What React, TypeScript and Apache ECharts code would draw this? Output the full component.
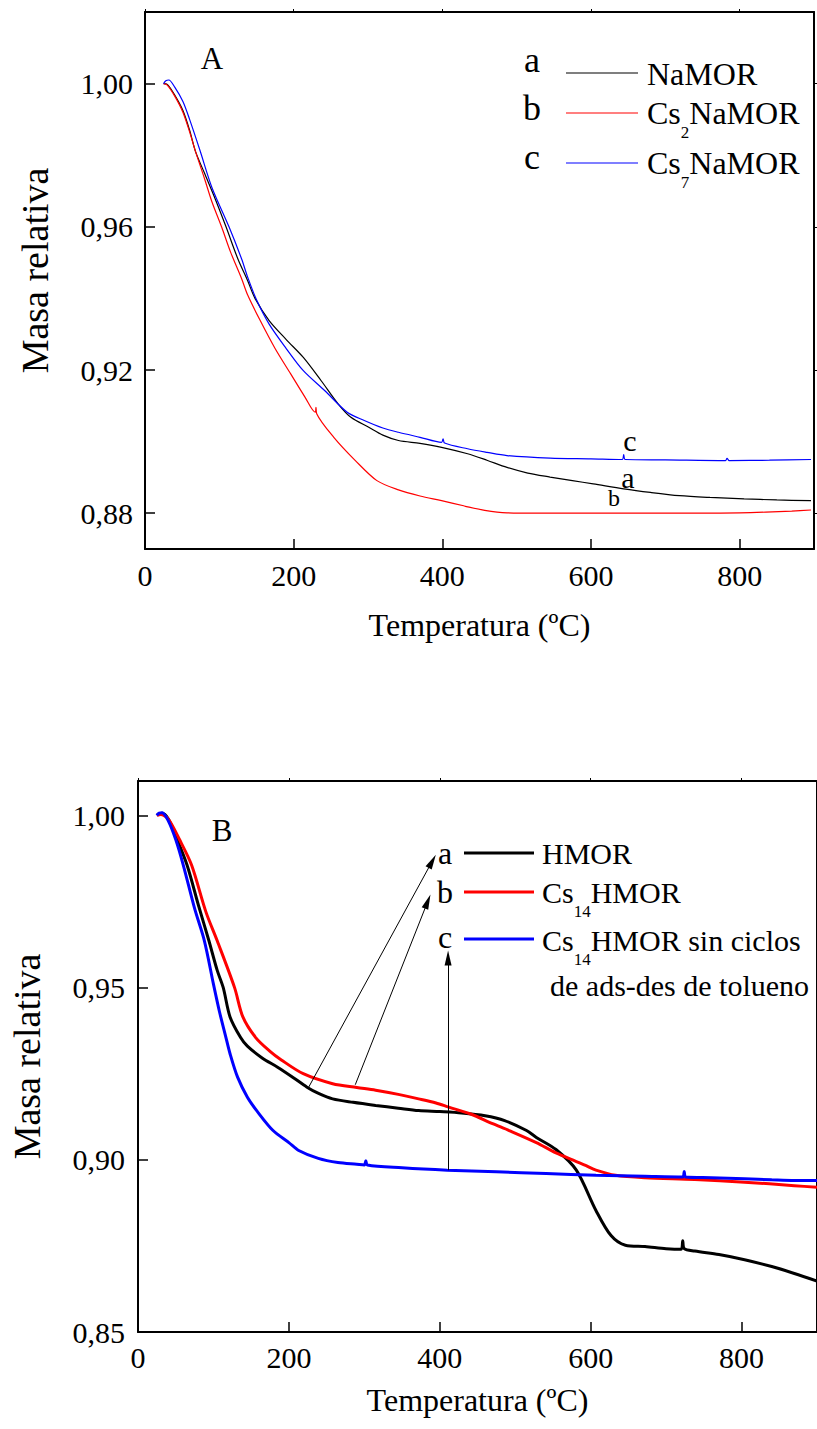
import React, { useEffect, useRef } from "react";
import * as echarts from "echarts";

// ---------- Panel A data ----------
const tempA_NaMOR = [25, 30, 40, 51, 60, 68, 80, 95, 109, 125, 138, 148, 167, 190, 213, 237, 260, 277, 301, 320, 341, 370, 399, 434, 460, 487, 515, 545, 575, 603, 644, 680, 719, 760, 806, 850, 896];
const massA_NaMOR = [1.0, 0.9998, 0.9968, 0.9925, 0.987, 0.981, 0.975, 0.9675, 0.96, 0.951, 0.945, 0.94, 0.9338, 0.9285, 0.9235, 0.917, 0.9105, 0.9068, 0.904, 0.9018, 0.9003, 0.8995, 0.8984, 0.8966, 0.8948, 0.8928, 0.8912, 0.8901, 0.8891, 0.8882, 0.8868, 0.8858, 0.8849, 0.8844, 0.884, 0.8837, 0.8835];

const tempA_Cs2 = [25, 30, 40, 51, 60, 68, 80, 90, 103, 115, 130, 138, 155, 175, 196, 215, 229, 230, 231, 254, 283, 312, 341, 370, 399, 430, 457, 487, 530, 574, 650, 748, 800, 835, 870, 896];
const massA_Cs2 = [1.0, 0.9996, 0.9965, 0.992, 0.9865, 0.981, 0.9735, 0.967, 0.96, 0.953, 0.9455, 0.941, 0.9338, 0.926, 0.9189, 0.9125, 0.9082, 0.9096, 0.9078, 0.9012, 0.8947, 0.8891, 0.8865, 0.8848, 0.8835, 0.882, 0.8808, 0.8801, 0.88, 0.88, 0.88, 0.88, 0.8801, 0.8803, 0.8806, 0.8809];

const tempA_Cs7 = [25, 28, 32, 40, 51, 60, 74, 90, 113, 130, 138, 150, 167, 190, 213, 242, 272, 295, 320, 341, 370, 399, 401, 403, 434, 460, 487, 545, 600, 642, 644, 646, 700, 781, 783, 786, 840, 896];
const massA_Cs7 = [1.0, 1.0008, 1.001, 0.999, 0.995, 0.99, 0.9813, 0.971, 0.96, 0.951, 0.946, 0.9396, 0.9328, 0.926, 0.9198, 0.9142, 0.9082, 0.9059, 0.9038, 0.9026, 0.9012, 0.8998, 0.9008, 0.8996, 0.898, 0.897, 0.8961, 0.8954, 0.8952, 0.895, 0.8964, 0.895, 0.8949, 0.8947, 0.8953, 0.8947, 0.8948, 0.895];

// ---------- Panel B data ----------
const tempB_HMOR = [25, 28, 32, 40, 50, 65, 80, 94, 105, 113, 122, 136, 145, 165, 185, 205, 224, 240, 258, 285, 315, 345, 372, 400, 429, 460, 486, 515, 528, 554, 581, 607, 627, 646, 672, 700, 720, 722, 724, 738, 770, 804, 840, 870, 900];
const massB_HMOR = [1.0, 1.0005, 1.0006, 0.999, 0.994, 0.9856, 0.974, 0.9636, 0.955, 0.95, 0.9415, 0.9355, 0.933, 0.9295, 0.9269, 0.924, 0.9211, 0.9192, 0.9177, 0.9167, 0.9158, 0.915, 0.9143, 0.914, 0.9136, 0.9128, 0.9114, 0.9085, 0.9065, 0.903, 0.897, 0.8853, 0.878, 0.8752, 0.8748, 0.8742, 0.874, 0.8765, 0.8742, 0.8735, 0.8725, 0.871, 0.869, 0.867, 0.8648];

const tempB_Cs14 = [25, 30, 40, 55, 71, 90, 105, 128, 139, 156, 175, 190, 219, 258, 290, 315, 345, 372, 395, 412, 441, 470, 492, 528, 554, 581, 594, 607, 633, 672, 738, 804, 870, 900];
const massB_Cs14 = [1.0, 1.0003, 0.999, 0.993, 0.9856, 0.972, 0.9636, 0.95, 0.9415, 0.9355, 0.9315, 0.929, 0.925, 0.9221, 0.921, 0.9202, 0.919, 0.9177, 0.9165, 0.9153, 0.9133, 0.9105, 0.9085, 0.905, 0.902, 0.8995, 0.8983, 0.897, 0.8955, 0.8948, 0.8943, 0.8935, 0.8925, 0.892];

const tempB_Cs14sc = [25, 28, 32, 40, 50, 60, 75, 88, 100, 108, 116, 122, 132, 145, 160, 179, 200, 213, 239, 265, 290, 300, 302, 304, 350, 410, 475, 541, 607, 672, 722, 724, 726, 760, 804, 840, 870, 900];
const massB_Cs14sc = [1.0, 1.0007, 1.0008, 0.9985, 0.993, 0.9856, 0.973, 0.9636, 0.951, 0.943, 0.936, 0.9308, 0.924, 0.9182, 0.9135, 0.9085, 0.905, 0.9027, 0.9004, 0.8992, 0.8987, 0.8985, 0.8997, 0.8985, 0.8977, 0.897, 0.8965, 0.896, 0.8955, 0.8952, 0.895, 0.8966, 0.895, 0.8948, 0.8945, 0.8942, 0.894, 0.894];

// Arrow annotations (panel B), in data coordinates [T, mass]
const arrowA = [[226, 0.921], [390, 0.9867]];
const arrowB = [[288, 0.9218], [384, 0.975]];
const arrowC = [[411, 0.897], [411, 0.9586]];

// ---------- Ticks ----------
const xTicks = [0, 200, 400, 600, 800];
const yTicksA = [0.88, 0.92, 0.96, 1.0];
const yTicksB = [0.85, 0.9, 0.95, 1.0];

const FONT = "Liberation Serif";

const zip = (t: number[], m: number[]) => t.map((x, i) => [x, m[i]]);
const fmt = (v: number) => v.toFixed(2).replace(".", ",");

function xAxisBottom(gridIndex: number, nameGap: number, labelMargin: number) {
  return {
    type: "value",
    gridIndex,
    min: 0,
    max: 900,
    position: "bottom",
    name: "Temperatura (ºC)",
    nameLocation: "middle",
    nameGap,
    nameTextStyle: { fontFamily: FONT, fontSize: 32, color: "#000" },
    axisLine: { show: true, onZero: false, lineStyle: { color: "#000", width: 2 } },
    axisTick: { show: true, inside: true, length: 10, customValues: xTicks, lineStyle: { color: "#000", width: 1.5 } },
    axisLabel: { show: true, customValues: xTicks, margin: labelMargin, fontFamily: FONT, fontSize: 30, color: "#000" },
    splitLine: { show: false },
  };
}
function xAxisTop(gridIndex: number) {
  return {
    type: "value",
    gridIndex,
    min: 0,
    max: 900,
    position: "top",
    axisLine: { show: true, onZero: false, lineStyle: { color: "#000", width: 2 } },
    axisTick: { show: true, inside: false, length: 3, customValues: xTicks, lineStyle: { color: "#000", width: 1 } },
    axisLabel: { show: false },
    splitLine: { show: false },
  };
}
function yAxisLeft(gridIndex: number, min: number, max: number, ticks: number[], nameGap: number, labelMargin: number, namePad: number[]) {
  return {
    type: "value",
    gridIndex,
    min,
    max,
    position: "left",
    name: "Masa relativa",
    nameLocation: "middle",
    nameGap,
    nameTextStyle: { fontFamily: FONT, fontSize: 38, color: "#000", padding: namePad },
    axisLine: { show: true, onZero: false, lineStyle: { color: "#000", width: 2 } },
    axisTick: { show: true, inside: true, length: 10, customValues: ticks, lineStyle: { color: "#000", width: 1.5 } },
    axisLabel: { show: true, customValues: ticks, formatter: fmt, margin: labelMargin, fontFamily: FONT, fontSize: 30, color: "#000" },
    splitLine: { show: false },
  };
}
function yAxisRight(gridIndex: number, min: number, max: number, ticks: number[]) {
  return {
    type: "value",
    gridIndex,
    min,
    max,
    position: "right",
    axisLine: { show: true, onZero: false, lineStyle: { color: "#000", width: 2 } },
    axisTick: { show: true, inside: false, length: 3, customValues: ticks, lineStyle: { color: "#000", width: 1 } },
    axisLabel: { show: false },
    splitLine: { show: false },
  };
}

const txt = (text: string, x: number, y: number, size: number, align = "left") => ({
  type: "text",
  silent: true,
  style: {
    text,
    x,
    y,
    fill: "#000",
    fontFamily: FONT,
    fontSize: size,
    textAlign: align,
    textVerticalAlign: "middle",
  },
});
const richSub = (pre: string, sub: string, post: string, x: number, y: number, size: number) => ({
  type: "text",
  silent: true,
  style: {
    text: `{n|${pre}}{s|${sub}}{n|${post}}`,
    x,
    y,
    fill: "#000",
    textAlign: "left",
    textVerticalAlign: "middle",
    rich: {
      n: { fontFamily: FONT, fontSize: size, fill: "#000" },
      s: { fontFamily: FONT, fontSize: 17, fill: "#000", padding: [38, 0, 0, 0] },
    },
  },
});
const seg = (x1: number, x2: number, y: number, color: string, w: number) => ({
  type: "line",
  silent: true,
  shape: { x1, y1: y, x2, y2: y },
  style: { stroke: color, lineWidth: w },
});

const arrowHead = "path://M5,0 L10,24 L0,24 Z";
const arrowItem = (a: number[][]) => [
  { coord: a[0], symbol: "none" },
  { coord: a[1], symbol: arrowHead, symbolSize: [7, 15] },
];

export default function App() {
  const ref = useRef<HTMLDivElement>(null);
  useEffect(() => {
    document.body.style.margin = "0";
    const chart = echarts.init(ref.current!, null, { renderer: "svg" });
    const lineA = (name: string, t: number[], m: number[], color: string) => ({
      name,
      type: "line",
      xAxisIndex: 0,
      yAxisIndex: 0,
      data: zip(t, m),
      showSymbol: false,
      symbol: "none",
      smooth: 0.3,
      lineStyle: { color, width: 1.2 },
      itemStyle: { color },
      silent: true,
    });
    const lineB = (name: string, t: number[], m: number[], color: string, extra: any = {}) => ({
      name,
      type: "line",
      xAxisIndex: 2,
      yAxisIndex: 2,
      data: zip(t, m),
      showSymbol: false,
      symbol: "none",
      smooth: 0.3,
      lineStyle: { color, width: 3 },
      itemStyle: { color },
      silent: true,
      ...extra,
    });
    chart.setOption({
      animation: false,
      backgroundColor: "#fff",
      textStyle: { fontFamily: FONT },
      grid: [
        { left: 145, top: 12, width: 669, height: 537 },
        { left: 138, top: 781, width: 685, height: 551 },
      ],
      xAxis: [xAxisBottom(0, 60, 11), xAxisTop(0), xAxisBottom(1, 52, 10), xAxisTop(1)],
      yAxis: [
        yAxisLeft(0, 0.87, 1.02, yTicksA, 91, 12, [0, 0, 0, 20]),
        yAxisRight(0, 0.87, 1.02, yTicksA),
        yAxisLeft(1, 0.85, 1.01, yTicksB, 92, 13, [0, 0, 0, 0]),
        yAxisRight(1, 0.85, 1.01, yTicksB),
      ],
      series: [
        lineA("NaMOR", tempA_NaMOR, massA_NaMOR, "#000000"),
        lineA("Cs2NaMOR", tempA_Cs2, massA_Cs2, "#ff0000"),
        lineA("Cs7NaMOR", tempA_Cs7, massA_Cs7, "#0000ff"),
        lineB("HMOR", tempB_HMOR, massB_HMOR, "#000000", {
          markLine: {
            silent: true,
            animation: false,
            symbol: ["none", arrowHead],
            lineStyle: { color: "#000", width: 1, type: "solid" },
            itemStyle: { color: "#000" },
            label: { show: false },
            emphasis: { disabled: true },
            data: [arrowItem(arrowA), arrowItem(arrowB), arrowItem(arrowC)],
          },
        }),
        lineB("Cs14HMOR", tempB_Cs14, massB_Cs14, "#ff0000"),
        lineB("Cs14HMOR sin ciclos", tempB_Cs14sc, massB_Cs14sc, "#0000ff"),
      ],
      graphic: [
        // Panel A
        txt("A", 212, 58, 31, "center"),
        txt("a", 532, 60, 36, "center"),
        txt("b", 532, 108, 36, "center"),
        txt("c", 532, 157, 36, "center"),
        seg(566, 638, 73, "#000", 1.2),
        seg(566, 638, 113, "#ff0000", 1.2),
        seg(566, 638, 163, "#0000ff", 1.2),
        txt("NaMOR", 647, 74, 32),
        richSub("Cs", "2", "NaMOR", 647, 113, 32),
        richSub("Cs", "7", "NaMOR", 647, 163, 32),
        txt("c", 630, 440, 30, "center"),
        txt("a", 628, 477, 30, "center"),
        txt("b", 614, 498, 24, "center"),
        // Panel B
        txt("B", 222, 830, 31, "center"),
        txt("a", 445, 853, 32, "center"),
        txt("b", 445, 892, 32, "center"),
        txt("c", 445, 937, 32, "center"),
        seg(464, 534, 853, "#000", 3),
        seg(464, 534, 892, "#ff0000", 3),
        seg(464, 534, 939, "#0000ff", 3),
        txt("HMOR", 542, 853, 30),
        richSub("Cs", "14", "HMOR", 542, 892, 30),
        richSub("Cs", "14", "HMOR sin ciclos", 542, 940, 30),
        txt("de ads-des de tolueno", 550, 985, 30),
      ],
    });
    return () => chart.dispose();
  }, []);
  return <div ref={ref} style={{ width: 817, height: 1429 }} />;
}
